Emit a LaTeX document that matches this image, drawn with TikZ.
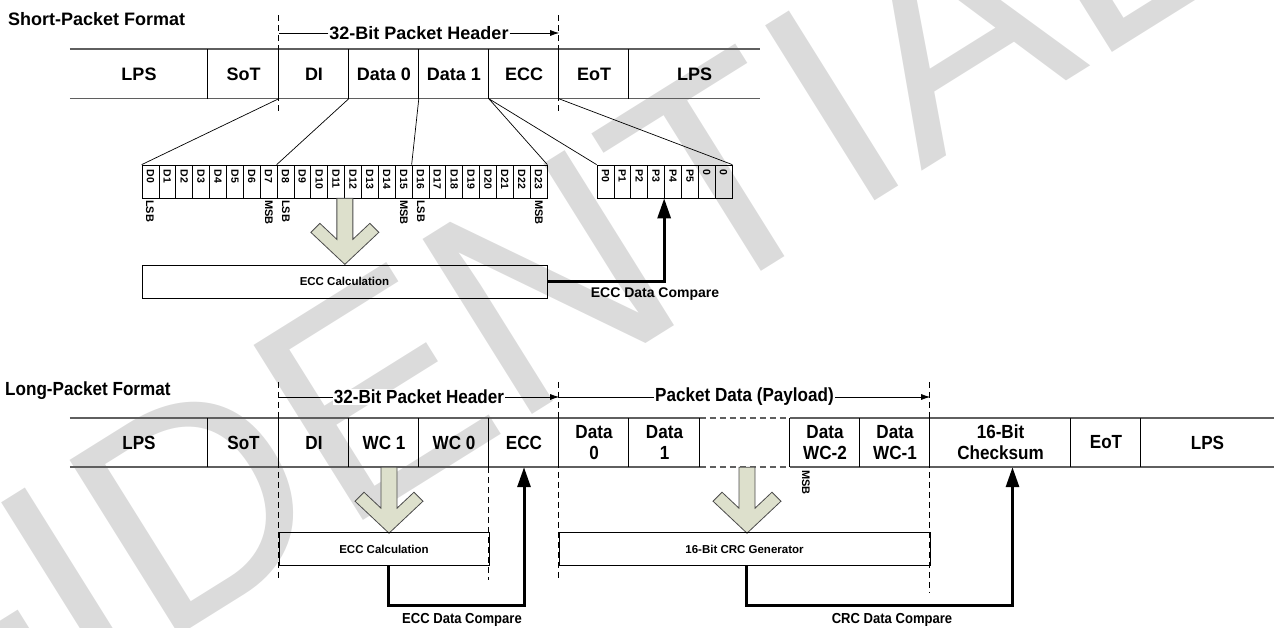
\documentclass[tikz,border=0pt]{standalone}
\usepackage{fontspec}
\setmainfont{Liberation Sans}
\newfontfamily\narrowsans{Liberation Sans}[FakeStretch=0.9]
\usetikzlibrary{arrows.meta,positioning,calc}
\definecolor{chevronfill}{RGB}{221,224,204}
\definecolor{rowgray}{RGB}{95,95,95}

\tikzset{
  field/.style={inner sep=0pt, minimum height=49pt, align=center, font=\bfseries\fontsize{18}{21}\selectfont},
  lfield/.style={field, font=\narrowsans\bfseries\fontsize{19}{21}\selectfont},
  title/.style={inner sep=0pt, anchor=west, font=\bfseries\fontsize{18}{20}\selectfont},
  hdr/.style={fill=white, inner sep=1pt, font=\bfseries\fontsize{18}{20}\selectfont},
  rowline/.style={draw=rowgray, line width=1.6pt},
  divider/.style={draw=black, line width=0.8pt},
  guide/.style={draw=black, line width=0.7pt, dash pattern=on 6pt off 4pt},
  hdrarrow/.style={draw=black, line width=0.8pt, -{Latex[length=9pt,width=6pt]}},
  fan/.style={draw=black, line width=0.7pt},
  bit/.style={draw=black, line width=0.7pt, minimum width=16.875pt, minimum height=33pt, inner sep=0pt},
  bitlabel/.style={rotate=-90, anchor=west, inner sep=0pt, font=\bfseries\fontsize{10.5}{11}\selectfont},
  sbit/.style={rotate=-90, inner sep=0pt, font=\bfseries\fontsize{11}{12}\selectfont},
  calc/.style={draw=black, line width=0.8pt, minimum height=33pt, inner sep=0pt, font=\bfseries\fontsize{11.5}{12}\selectfont},
  cmp/.style={draw=black, line width=3pt, -{Triangle[length=20pt,width=13pt]}},
  cmplabel/.style={inner sep=0pt, font=\bfseries\fontsize{14}{15}\selectfont},
  chevronstyle/.style={fill=chevronfill, draw=black!70, line width=0.8pt},
  chevron/.pic={\draw[chevronstyle] (-8,0) -- (-8,41) -- (-25,25) -- (-34,34) -- (0,66) -- (34,34) -- (25,25) -- (8,41) -- (8,0) -- cycle;},
  watermark/.style={text=black!14, inner sep=0pt, rotate=32, font=\fontsize{300}{300}\selectfont}
}

\begin{document}
\begin{tikzpicture}[x=1pt,y=-1pt]
  \useasboundingbox (0,0) rectangle (1274,628);
  \node[watermark, anchor=base] (wm) at (300,560) {CONFIDENTIAL};

  % short packet
  \node[title] (sTitle) at (8,19) {Short-Packet Format};
  \foreach \n/\l/\r/\t in {sLPSa/70/208/LPS, sSoT/208/279/SoT, sDI/279/349/DI, sDa/349/419/Data 0, sDb/419/489/Data 1, sECC/489/559/ECC, sEoT/559/629/EoT, sLPSb/629/760/LPS}
  {
    \node[field, minimum width={(\r-\l)*1pt}] (\n) at ({(\l+\r)/2},74) {\t};
  }
  \draw[rowline] (sLPSa.north west) -- (sLPSb.north east);
  \draw[rowline] (sLPSa.south west) -- (sLPSb.south east);
  \foreach \n in {sSoT,sDI,sDa,sDb,sECC,sEoT,sLPSb}
    \draw[divider] (\n.north west) -- (\n.south west);
  \draw[guide] ([yshift=34pt]sDI.north west) -- ([yshift=-14pt]sDI.south west);
  \draw[guide] ([yshift=34pt]sEoT.north west) -- ([yshift=-14pt]sEoT.south west);

  \node[hdr] (sHdr) at (419,33) {32-Bit Packet Header};
  \draw[divider] (sHdr.west) -- (sHdr.west -| sDI.west);
  \draw[hdrarrow] (sHdr.east) -- (sHdr.east -| sECC.east);

  \foreach \i in {0,...,23}
  {
    \node[bit] (b\i) at ({142+16.875*(\i+0.5)},181.5) {};
    \node[bitlabel] at ([yshift=-5pt]b\i.north) {D\i};
  }
  \foreach \i/\t in {0/P0,1/P1,2/P2,3/P3,4/P4,5/P5,6/0,7/0}
  {
    \node[bit] (p\i) at ({597+16.875*(\i+0.5)},181.5) {};
    \node[bitlabel] at ([yshift=-5pt]p\i.north) {\t};
  }
  \foreach \x/\t in {150/LSB,269/MSB,286/LSB,404/MSB,421/LSB,539/MSB}
    \node[sbit, anchor=west] at (\x,200) {\t};

  \draw[fan] (sDI.south west) -- (b0.north west);
  \draw[fan] (sDa.south west) -- (b8.north west);
  \draw[fan] (sDb.south west) -- (b16.north west);
  \draw[fan] (sECC.south west) -- (b23.north east);
  \draw[fan] (sECC.south west) -- (p0.north west);
  \draw[fan] (sEoT.south west) -- (p7.north east);

  \pic at (b11.south east) {chevron};
  \node[calc, minimum width=405pt] (sCalc) at (344.5,281.5) {ECC Calculation};
  \draw[cmp] (sCalc.east) -| (p4.south west);
  \node[cmplabel] (sCmp) at (655,294) {ECC Data Compare};

  % long packet
  \node[title, font=\narrowsans\bfseries\fontsize{19}{20}\selectfont] (lTitle) at (5,391) {Long-Packet Format};
  \foreach \n/\l/\r/\t in {lLPSa/70/208/LPS, lSoT/208/279/SoT, lDI/279/349/DI, lWCa/349/419/WC 1, lWCb/419/489/WC 0, lECC/489/559/ECC, lDa/559/629/{Data\\0}, lDb/629/700/{Data\\1}, lGap/700/790/{}, lDc/790/860/{Data\\WC-2}, lDd/860/930/{Data\\WC-1}, lChk/930/1071/{16-Bit\\Checksum}, lEoT/1071/1141/EoT, lLPSb/1141/1274/LPS}
  {
    \node[lfield, minimum width={(\r-\l)*1pt}] (\n) at ({(\l+\r)/2},442.5) {\t};
  }
  \draw[rowline] (lLPSa.north west) -- (lDb.north east);
  \draw[rowline] (lLPSa.south west) -- (lDb.south east);
  \draw[rowline, dash pattern=on 6pt off 4pt] (lGap.north west) -- (lGap.north east);
  \draw[rowline, dash pattern=on 6pt off 4pt] (lGap.south west) -- (lGap.south east);
  \draw[rowline] (lDc.north west) -- (lLPSb.north east);
  \draw[rowline] (lDc.south west) -- (lLPSb.south east);
  \foreach \n in {lSoT,lDI,lWCa,lWCb,lECC,lDa,lDb,lGap,lDc,lDd,lChk,lEoT,lLPSb}
    \draw[divider] (\n.north west) -- (\n.south west);
  \draw[guide] ([yshift=36pt]lDI.north west) -- ([yshift=-113pt]lDI.south west);
  \draw[guide] (lECC.south west) -- ([yshift=-113pt]lECC.south west);
  \draw[guide] ([yshift=36pt]lDa.north west) -- ([yshift=-113pt]lDa.south west);
  \draw[guide] ([yshift=36pt]lChk.north west) -- ([yshift=-125pt]lChk.south west);

  \node[hdr, font=\narrowsans\bfseries\fontsize{19}{20}\selectfont] (lHdrA) at (419,397) {32-Bit Packet Header};
  \draw[divider] (lHdrA.west) -- (lHdrA.west -| lDI.west);
  \draw[hdrarrow] (lHdrA.east) -- (lHdrA.east -| lECC.east);
  \node[hdr, font=\narrowsans\bfseries\fontsize{19}{20}\selectfont] (lHdrB) at (744.5,397) {Packet Data (Payload)};
  \draw[divider] (lHdrB.west) -- (lHdrB.west -| lDa.west);
  \draw[hdrarrow] (lHdrB.east) -- (lHdrB.east -| lDd.east);

  \node[sbit, anchor=west] at (806,470) {MSB};

  \pic at ([xshift=5pt]lWCa.south) {chevron};
  \pic at ([xshift=2pt]lGap.south) {chevron};
  \node[calc, minimum width=210pt] (lCalcA) at (384,549) {ECC Calculation};
  \node[calc, minimum width=371pt] (lCalcB) at (744.5,549) {16-Bit CRC Generator};
  \draw[cmp] ([xshift=4pt]lCalcA.south) -- ++(0,40) -| (lECC.south);
  \draw[cmp] ([xshift=2pt]lCalcB.south) -- ++(0,40) -| ([xshift=12pt]lChk.south);
  \node[cmplabel, font=\narrowsans\bfseries\fontsize{14.5}{15}\selectfont] (lCmpA) at (462,620) {ECC Data Compare};
  \node[cmplabel, font=\narrowsans\bfseries\fontsize{14.5}{15}\selectfont] (lCmpB) at (892,620) {CRC Data Compare};
\end{tikzpicture}
\end{document}
